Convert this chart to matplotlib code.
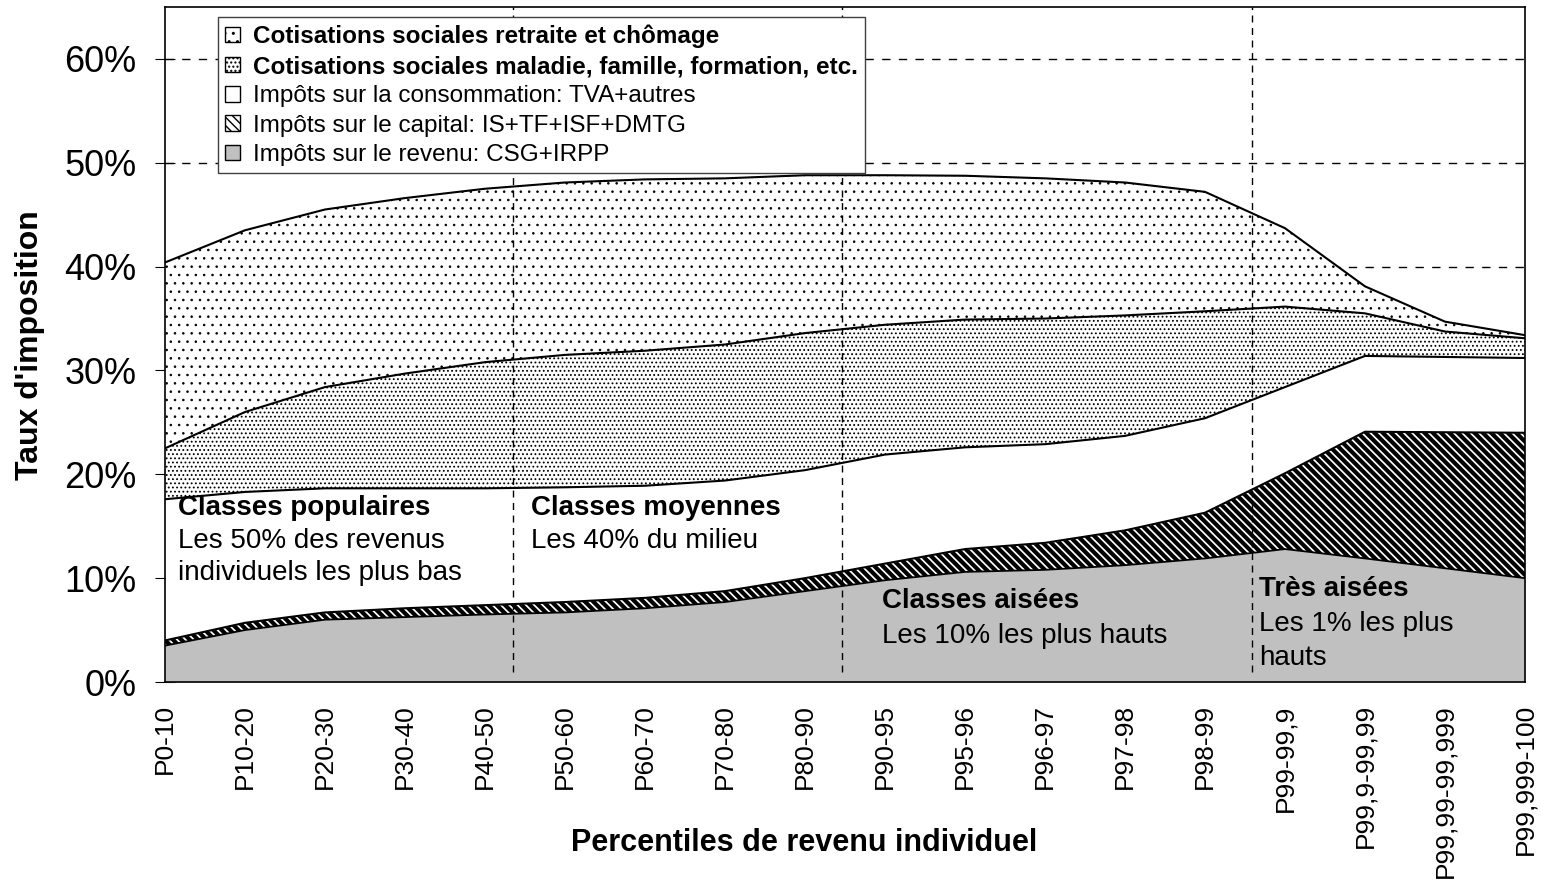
import numpy as np
import matplotlib
matplotlib.use("Agg")
import matplotlib.pyplot as plt
from matplotlib.ticker import PercentFormatter

plt.rcParams['font.family'] = ['Liberation Sans', 'DejaVu Sans']

# percentiles de revenu
categories = ["P0-10", "P10-20", "P20-30", "P30-40", "P40-50", "P50-60", "P60-70",
              "P70-80", "P80-90", "P90-95", "P95-96", "P96-97", "P97-98", "P98-99",
              "P99-99,9", "P99,9-99,99", "P99,99-99,999", "P99,999-100"]

# taux par composante (points de %)
revenu = [3.5, 5.0, 6.0, 6.25, 6.5, 6.7, 7.1, 7.7, 8.75, 9.8, 10.6, 10.8, 11.25, 11.9,
          12.8, 11.9, 10.95, 10.0]
capital = [0.5, 0.7, 0.7, 0.85, 0.9, 1.0, 1.0, 1.05, 1.25, 1.6, 2.2, 2.6, 3.35, 4.4,
           7.3, 12.2, 13.1, 14.0]
consommation = [13.6, 12.6, 11.95, 11.55, 11.25, 11.05, 10.8, 10.65, 10.4, 10.5, 9.8, 9.5,
                9.1, 9.1, 8.3, 7.3, 7.25, 7.2]
maladie = [4.9, 7.7, 9.75, 11.05, 12.15, 12.75, 13.0, 13.1, 13.2, 12.5, 12.3, 12.1, 11.6,
           10.3, 7.75, 4.1, 2.45, 1.9]
retraite = [17.9, 17.5, 17.1, 16.9, 16.7, 16.6, 16.5, 16.0, 15.2, 14.4, 13.85, 13.5, 12.8,
            11.5, 7.55, 2.6, 0.95, 0.3]

labels = ["Impôts sur le revenu: CSG+IRPP",
          "Impôts sur le capital: IS+TF+ISF+DMTG",
          "Impôts sur la consommation: TVA+autres",
          "Cotisations sociales maladie, famille, formation, etc.",
          "Cotisations sociales retraite et chômage"]
faces = ["#c0c0c0", "white", "white", "white", "white"]
hatches = [None, "\\\\\\\\", None, "....", ".."]
hatch_lw = [1.0, 3.0, 1.0, 0.8, 0.6]

# limites des groupes (position sur l'axe des categories)
separateurs = [4.35, 8.46, 13.59]

fig = plt.figure(figsize=(15.41, 8.92), dpi=100)
ax = fig.add_axes([165 / 1541, 1 - 682 / 892, 1360 / 1541, 675 / 892])

x = np.arange(len(categories))
layers = [revenu, capital, consommation, maladie, retraite]
bottom = np.zeros(len(x))
for vals, lab, fc, h, hl in zip(layers, labels, faces, hatches, hatch_lw):
    top = bottom + np.array(vals)
    with plt.rc_context({'hatch.linewidth': hl, 'hatch.color': 'black'}):
        pc = ax.fill_between(x, bottom, top, facecolor=fc, hatch=h, edgecolor='black',
                             linewidth=0, label=lab, zorder=2)
        if hasattr(pc, 'set_hatch_linewidth'):
            pc.set_hatch_linewidth(hl)
    ax.plot(x, top, color='black', lw=1.5 if fc == 'white' else 1.3, zorder=3)
    bottom = top

for s in separateurs:
    ax.axvline(s, ymin=0.015, ymax=1, color='black', lw=1, ls=(0, (5, 4)), zorder=4)

ax.set_xlim(0, len(categories) - 1)
ax.set_ylim(0, 65)
ax.set_yticks(np.arange(0, 61, 10))
ax.yaxis.set_major_formatter(PercentFormatter(decimals=0))
ax.yaxis.grid(True, color='black', lw=1, ls=(0, (6, 6)), zorder=0)
ax.set_axisbelow(True)
ax.tick_params(axis='y', direction='inout', length=15, labelsize=26, pad=13)
ax.set_xticks(x)
ax.set_xticklabels(categories, rotation=90, fontsize=19)
ax.tick_params(axis='x', length=0, pad=16)
for sp in ax.spines.values():
    sp.set_linewidth(1.2)

fig.text(30 / 1541, 1 - 345 / 892, "Taux d'imposition", fontsize=23, fontweight='bold',
         rotation=90, ha='center', va='center')
fig.text(804 / 1541, 1 - 843 / 892, "Percentiles de revenu individuel", fontsize=22,
         fontweight='bold', ha='center', va='center')

# annotations des classes
big = 20
ax.text(0.16, 16.06, "Classes populaires", fontsize=big, fontweight='bold', zorder=5)
ax.text(0.16, 12.88, "Les 50% des revenus", fontsize=big, zorder=5)
ax.text(0.16, 9.8, "individuels les plus bas", fontsize=big, zorder=5)
ax.text(4.575, 16.06, "Classes moyennes", fontsize=big, fontweight='bold', zorder=5)
ax.text(4.575, 12.88, "Les 40% du milieu", fontsize=big, zorder=5)
ax.text(8.96, 7.1, "Classes aisées", fontsize=big, fontweight='bold', zorder=5)
ax.text(8.96, 3.75, "Les 10% les plus hauts", fontsize=big, zorder=5)
ax.text(13.675, 8.27, "Très aisées", fontsize=big, fontweight='bold', zorder=5)
ax.text(13.675, 4.9, "Les 1% les plus", fontsize=big, zorder=5)
ax.text(13.675, 1.63, "hauts", fontsize=big, zorder=5)

handles, labs = ax.get_legend_handles_labels()
leg = fig.legend(handles[::-1], labs[::-1], loc='upper left',
                 bbox_to_anchor=(218 / 1541, 1 - 17 / 892), fontsize=17.5,
                 handlelength=0.6, handleheight=0.6, handletextpad=0.55,
                 labelspacing=0.3, borderpad=0.3, borderaxespad=0,
                 fancybox=False, framealpha=1, edgecolor='#404040')
leg.get_frame().set_linewidth(1.0)
for t in leg.get_texts()[:2]:
    t.set_fontweight('bold')
for p in leg.get_patches():
    p.set_edgecolor('black')
    p.set_linewidth(1.0)

fig.savefig("out.png", dpi=100)
